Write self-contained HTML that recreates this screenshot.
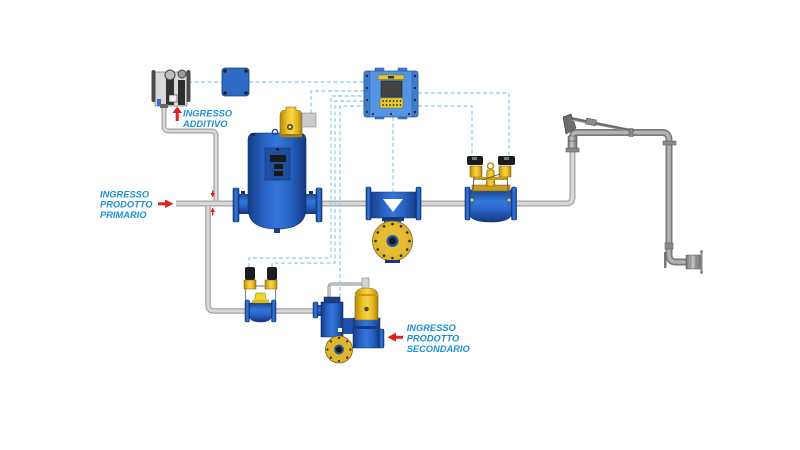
<!DOCTYPE html>
<html><head><meta charset="utf-8">
<style>html,body{margin:0;padding:0;background:#fff}svg{display:block}
text{font-family:"Liberation Sans",sans-serif;font-weight:bold;font-style:italic;font-size:9.3px;fill:#1a8fd6}</style></head>
<body>
<svg width="800" height="450" viewBox="0 0 800 450" xmlns="http://www.w3.org/2000/svg">
<defs>
<linearGradient id="bH" x1="0" x2="1" y1="0" y2="0">
<stop offset="0" stop-color="#163c84"/><stop offset="0.3" stop-color="#2a66c8"/><stop offset="0.5" stop-color="#3476d8"/><stop offset="0.75" stop-color="#2560bf"/><stop offset="1" stop-color="#143780"/></linearGradient>
<linearGradient id="bV" x1="0" x2="0" y1="0" y2="1">
<stop offset="0" stop-color="#1a4490"/><stop offset="0.35" stop-color="#3476d8"/><stop offset="0.6" stop-color="#2a66c8"/><stop offset="1" stop-color="#143780"/></linearGradient>
<linearGradient id="yH" x1="0" x2="1" y1="0" y2="0">
<stop offset="0" stop-color="#b7890f"/><stop offset="0.35" stop-color="#eec52a"/><stop offset="0.55" stop-color="#f6d446"/><stop offset="0.8" stop-color="#e0b21e"/><stop offset="1" stop-color="#a67c0c"/></linearGradient>
<linearGradient id="gH" x1="0" x2="1" y1="0" y2="0">
<stop offset="0" stop-color="#6e6e6e"/><stop offset="0.4" stop-color="#c9c9c9"/><stop offset="1" stop-color="#6a6a6a"/></linearGradient>
</defs>
<rect width="800" height="450" fill="#fff"/>

<!-- pipes -->
<g fill="none" stroke-linecap="butt">
<path d="M176,203.5 H566 Q572.5,203.5 572.5,197 V150" stroke="#a3a3a3" stroke-width="6"/>
<path d="M176,203.5 H566 Q572.5,203.5 572.5,197 V150" stroke="#d8d8d8" stroke-width="3.4"/>
<path d="M208,206 V305 Q208,311 214,311 H318" stroke="#a3a3a3" stroke-width="5.5"/>
<path d="M208,206 V305 Q208,311 214,311 H318" stroke="#d8d8d8" stroke-width="3"/>
<path d="M164,106 V126 Q164,131 169,131 H211 Q216,131 216,136 V200.5" stroke="#a3a3a3" stroke-width="5"/>
<path d="M164,106 V126 Q164,131 169,131 H211 Q216,131 216,136 V200.5" stroke="#dadada" stroke-width="2.6"/>
<path d="M329,302 V288 Q329,284 333,284 H363" stroke="#8a8a8a" stroke-width="3"/>
<path d="M329,302 V288 Q329,284 333,284 H363" stroke="#d0d0d0" stroke-width="1.5"/>
<!-- loading arm -->
<path d="M572.5,140 V137 Q572.5,132.5 577,132.5 H662 Q669,132.5 669,140 V255 Q669,262 676,262 H688" stroke="#7a7a7a" stroke-width="7"/>
<path d="M572.5,140 V137 Q572.5,132.5 577,132.5 H662 Q669,132.5 669,140 V255 Q669,262 676,262 H688" stroke="#b3b3b3" stroke-width="3.5"/>
</g>
<!-- loading arm details -->
<rect x="566" y="148" width="13" height="4" fill="#8a8a8a" stroke="#555" stroke-width="0.5"/>
<rect x="568" y="136" width="9" height="12" fill="url(#gH)" stroke="#555" stroke-width="0.5"/>
<line x1="568" y1="141" x2="577" y2="141" stroke="#555" stroke-width="0.6"/>
<polygon points="563,117 571,114 576,128 566,134" fill="#6d6d6d" stroke="#3a3a3a" stroke-width="0.6"/>
<line x1="570" y1="118" x2="634" y2="131" stroke="#6a6a6a" stroke-width="2.6"/>
<line x1="570" y1="120" x2="634" y2="132" stroke="#a0a0a0" stroke-width="0.8"/>
<rect x="586" y="119" width="10" height="6" fill="#8c8c8c" stroke="#444" stroke-width="0.5" transform="rotate(11.5 591 122)"/>
<rect x="629" y="128.5" width="4" height="8" fill="#8a8a8a" stroke="#555" stroke-width="0.5"/>
<rect x="663" y="141" width="13" height="4" fill="#8a8a8a" stroke="#555" stroke-width="0.5"/>
<rect x="665" y="243" width="8" height="6" fill="#8a8a8a" stroke="#555" stroke-width="0.5"/>
<rect x="664" y="252" width="2.5" height="16" fill="#777"/>
<rect x="686" y="255" width="15" height="14" fill="url(#gH)" stroke="#555" stroke-width="0.5"/>
<line x1="691" y1="255" x2="691" y2="269" stroke="#666" stroke-width="0.6"/>
<line x1="696" y1="255" x2="696" y2="269" stroke="#666" stroke-width="0.6"/>
<rect x="700.5" y="252" width="2" height="20" fill="#888"/>
<circle cx="701.5" cy="251.5" r="1.4" fill="#777"/><circle cx="701.5" cy="272.5" r="1.4" fill="#777"/>

<!-- dashed signal lines -->
<g fill="none" stroke="#8ccbe8" stroke-width="1.2" stroke-dasharray="4,2.5">
<path d="M188,82 H222"/>
<path d="M249,82 H364"/>
<path d="M311,113 V91 H364"/>
<path d="M249,267 V258 H331 V96 H364"/>
<path d="M272,267 V263 H335 V101 H364"/>
<path d="M340,330 V106 H364"/>
<path d="M393,117 V236"/>
<path d="M418,93 H509 V156"/>
<path d="M418,106 H472 V156"/>
</g>

<!-- additive device -->
<rect x="155" y="72" width="32" height="34" fill="#d9d9d9" stroke="#777" stroke-width="0.7"/>
<rect x="151.5" y="70" width="4" height="32" rx="2" fill="#4a4a4a"/>
<rect x="186.5" y="70" width="4" height="32" rx="2" fill="#4a4a4a"/>
<rect x="166" y="78" width="8" height="27" fill="#333"/>
<rect x="178" y="80" width="7" height="25" fill="#2e2e2e"/>
<circle cx="170" cy="75" r="5" fill="#bdbdbd" stroke="#444" stroke-width="1"/>
<circle cx="182" cy="74" r="4" fill="#9a9a9a" stroke="#444" stroke-width="1"/>
<rect x="169" y="95" width="8" height="7" fill="#eee" stroke="#333" stroke-width="0.6"/>
<rect x="157" y="99" width="4" height="7" fill="#3a70c8"/>
<rect x="160" y="104" width="8" height="4" fill="#666"/>

<!-- blue box -->
<rect x="222" y="68" width="27" height="28" rx="3" fill="#2d6bc4" stroke="#1a3f7d" stroke-width="0.8"/>
<circle cx="225" cy="71" r="1.8" fill="#222"/><circle cx="246" cy="71" r="1.8" fill="#222"/>
<circle cx="225" cy="93" r="1.8" fill="#222"/><circle cx="246" cy="93" r="1.8" fill="#222"/>

<!-- controller -->
<rect x="375" y="68" width="9" height="5" fill="#3f7ccc" stroke="#27569a" stroke-width="0.5"/>
<rect x="398" y="68" width="9" height="5" fill="#3f7ccc" stroke="#27569a" stroke-width="0.5"/>
<rect x="375" y="115" width="9" height="4" fill="#3f7ccc" stroke="#27569a" stroke-width="0.5"/>
<rect x="398" y="115" width="9" height="4" fill="#3f7ccc" stroke="#27569a" stroke-width="0.5"/>
<rect x="364" y="71" width="54" height="46" rx="3" fill="#5594e2" stroke="#27569a" stroke-width="0.8"/>
<rect x="364" y="71" width="6" height="46" rx="2" fill="#3f7ccc" stroke="#27569a" stroke-width="0.5"/>
<rect x="412" y="71" width="6" height="46" rx="2" fill="#3f7ccc" stroke="#27569a" stroke-width="0.5"/>
<rect x="378" y="75" width="26" height="4.5" rx="1" fill="#e7c52a" stroke="#6b5a10" stroke-width="0.4"/>
<rect x="388" y="76" width="6" height="2.5" fill="#333"/>
<rect x="381" y="81" width="21" height="16" fill="#434343" stroke="#222" stroke-width="0.6"/>
<rect x="380" y="98" width="23" height="10" rx="2" fill="#e8c92c" stroke="#6b5a10" stroke-width="0.4"/>
<g fill="#222">
<circle cx="383" cy="101" r="0.9"/><circle cx="386.5" cy="101" r="0.9"/><circle cx="390" cy="101" r="0.9"/><circle cx="393.5" cy="101" r="0.9"/><circle cx="397" cy="101" r="0.9"/><circle cx="400.5" cy="101" r="0.9"/>
<circle cx="383" cy="105" r="0.9"/><circle cx="386.5" cy="105" r="0.9"/><circle cx="390" cy="105" r="0.9"/><circle cx="393.5" cy="105" r="0.9"/><circle cx="397" cy="105" r="0.9"/><circle cx="400.5" cy="105" r="0.9"/>
<circle cx="367" cy="76" r="1.1"/><circle cx="367" cy="88" r="1.1"/><circle cx="367" cy="100" r="1.1"/><circle cx="367" cy="112" r="1.1"/>
<circle cx="415" cy="76" r="1.1"/><circle cx="415" cy="88" r="1.1"/><circle cx="415" cy="100" r="1.1"/><circle cx="415" cy="112" r="1.1"/>
<circle cx="373" cy="114" r="1.1"/><circle cx="391" cy="114" r="1.1"/><circle cx="409" cy="114" r="1.1"/>
</g>

<!-- strainer vessel -->
<rect x="238" y="194" width="12" height="20" fill="url(#bV)"/>
<rect x="304" y="194" width="13" height="20" fill="url(#bV)"/>
<rect x="233" y="188" width="6" height="34" rx="1.5" fill="url(#bH)" stroke="#0f2e66" stroke-width="0.6"/>
<rect x="316" y="188" width="6" height="34" rx="1.5" fill="url(#bH)" stroke="#0f2e66" stroke-width="0.6"/>
<rect x="241" y="191" width="4" height="3" fill="#1a2f5c"/><rect x="309" y="191" width="4" height="3" fill="#1a2f5c"/>
<path d="M248,140 Q248,133 255,133 H299 Q306,133 306,140 V208 Q306,229 277,229 Q248,229 248,208 Z" fill="url(#bH)" stroke="#10306a" stroke-width="0.6"/>
<rect x="274" y="228" width="6" height="5" fill="#1b3f85"/>
<circle cx="275" cy="132" r="2.6" fill="none" stroke="#1d4a9a" stroke-width="1.4"/>
<rect x="251" y="133" width="4" height="3" fill="#1a2f5c"/>
<rect x="265" y="148" width="25" height="32" fill="#1f4f9f" stroke="#153a7a" stroke-width="0.7"/>
<rect x="276" y="148.5" width="3" height="2" fill="#111"/>
<rect x="270" y="155" width="16" height="7" fill="#1a1a1a"/>
<rect x="274" y="164" width="9" height="5" fill="#1a1a1a"/>
<rect x="274" y="171" width="9" height="5" fill="#1a1a1a"/>
<!-- actuator -->
<path d="M280,137 V116 Q280,110 286,110 V107 H296 V110 Q302,110 302,116 V137 Z" fill="url(#yH)" stroke="#8a6a0c" stroke-width="0.6"/>
<rect x="302" y="113" width="14" height="14" fill="#cbcbcb" stroke="#888" stroke-width="0.6"/>
<circle cx="290" cy="127" r="3" fill="#5a4a10"/><circle cx="290" cy="127" r="1.4" fill="#ddd"/>
<rect x="280" y="134" width="22" height="2.5" fill="#a07a10"/>

<!-- bidirectional meter -->
<path d="M370,192 H417 V218 L403,218 L399,225 H386 L382,218 H370 Z" fill="url(#bH)" stroke="#10306a" stroke-width="0.6"/>
<polygon points="383,199 403,199 393,212" fill="#fff"/>
<rect x="366" y="187" width="5" height="33" rx="1.5" fill="url(#bH)" stroke="#0f2e66" stroke-width="0.6"/>
<rect x="416" y="187" width="5" height="33" rx="1.5" fill="url(#bH)" stroke="#0f2e66" stroke-width="0.6"/>
<rect x="382" y="217" width="22" height="4" fill="#17397c"/>
<circle cx="392.5" cy="241" r="20" fill="#e0b52a" stroke="#7f6410" stroke-width="0.8"/>
<circle cx="392.5" cy="241" r="15" fill="#e6bd32"/>
<g fill="#2a2a2a">
<circle cx="409.5" cy="241" r="1.3"/><circle cx="407.2" cy="249.5" r="1.3"/><circle cx="401" cy="255.7" r="1.3"/><circle cx="392.5" cy="258" r="1.3"/><circle cx="384" cy="255.7" r="1.3"/><circle cx="377.8" cy="249.5" r="1.3"/><circle cx="375.5" cy="241" r="1.3"/><circle cx="377.8" cy="232.5" r="1.3"/><circle cx="384" cy="226.3" r="1.3"/><circle cx="392.5" cy="224" r="1.3"/><circle cx="401" cy="226.3" r="1.3"/><circle cx="407.2" cy="232.5" r="1.3"/>
</g>
<circle cx="392.5" cy="241" r="6" fill="#2456a6"/><circle cx="392.5" cy="241" r="3.6" fill="#151515"/>
<rect x="385" y="260" width="15" height="3" fill="#17397c"/>

<!-- control valve right -->
<path d="M469,190 H512 V212 Q512,222 490.5,222 Q469,222 469,212 Z" fill="url(#bV)" stroke="#10306a" stroke-width="0.6"/>
<rect x="465" y="187" width="5" height="33" rx="1.5" fill="url(#bH)" stroke="#0f2e66" stroke-width="0.6"/>
<rect x="511.5" y="187" width="5" height="33" rx="1.5" fill="url(#bH)" stroke="#0f2e66" stroke-width="0.6"/>
<rect x="472" y="185" width="38" height="6" fill="#c99b1c" stroke="#7a5d0c" stroke-width="0.5"/>
<path d="M486,186 L487,170 H494 L495,186 Z" fill="url(#yH)" stroke="#7a5d0c" stroke-width="0.5"/>
<circle cx="490.5" cy="166" r="3" fill="none" stroke="#b8901a" stroke-width="1.6"/>
<rect x="470" y="166" width="12" height="11" fill="url(#yH)" stroke="#7a5d0c" stroke-width="0.5"/>
<rect x="499" y="166" width="12" height="11" fill="url(#yH)" stroke="#7a5d0c" stroke-width="0.5"/>
<rect x="473" y="177" width="35" height="3" fill="#c99b1c"/>
<g stroke="#555" stroke-width="0.9" fill="none">
<line x1="474" y1="177" x2="472" y2="205"/><line x1="507" y1="177" x2="509" y2="205"/>
<line x1="482" y1="180" x2="500" y2="174"/>
</g>
<circle cx="472" cy="200" r="1.8" fill="#ccc" stroke="#444" stroke-width="0.5"/>
<circle cx="509" cy="200" r="1.8" fill="#ccc" stroke="#444" stroke-width="0.5"/>
<rect x="467" y="156" width="16" height="9" rx="2" fill="#1c1c1c"/>
<rect x="498" y="156" width="17" height="9" rx="2" fill="#1c1c1c"/>
<rect x="472" y="157" width="5" height="3" fill="#777"/><rect x="504" y="157" width="5" height="3" fill="#777"/>

<!-- small pilot valve -->
<path d="M249,303 H272 V314 Q272,322 260.5,322 Q249,322 249,314 Z" fill="url(#bV)" stroke="#10306a" stroke-width="0.6"/>
<rect x="245" y="300" width="4.5" height="22" rx="1.2" fill="url(#bH)" stroke="#0f2e66" stroke-width="0.5"/>
<rect x="271.5" y="300" width="4.5" height="22" rx="1.2" fill="url(#bH)" stroke="#0f2e66" stroke-width="0.5"/>
<path d="M254,303 L256,293 H265 L267,303 Z" fill="#f0d52a" stroke="#8a7010" stroke-width="0.5"/>
<rect x="252" y="300" width="17" height="3" fill="#d9b820"/>
<rect x="244" y="280" width="12" height="9" fill="url(#yH)" stroke="#7a5d0c" stroke-width="0.5"/>
<rect x="265" y="280" width="12" height="9" fill="url(#yH)" stroke="#7a5d0c" stroke-width="0.5"/>
<g stroke="#888" stroke-width="1.2" fill="none">
<path d="M245.5,289 V300"/><path d="M275.5,289 V300"/><path d="M256,286 H265"/>
</g>
<rect x="245" y="267" width="10" height="13" rx="2" fill="#1c1c1c"/>
<rect x="267" y="267" width="10" height="13" rx="2" fill="#1c1c1c"/>

<!-- secondary meter assembly -->
<rect x="318" y="305" width="8" height="11" fill="url(#bV)"/>
<rect x="313" y="302" width="5" height="16" rx="1.2" fill="url(#bH)" stroke="#0f2e66" stroke-width="0.5"/>
<path d="M340,318 L355,318 V334 L342,334 Z" fill="#1f55b0"/>
<rect x="353" y="318" width="27" height="30" fill="url(#bH)" stroke="#10306a" stroke-width="0.5"/>
<rect x="379" y="329" width="5" height="19" rx="1.2" fill="url(#bH)" stroke="#0f2e66" stroke-width="0.5"/>
<rect x="353" y="326" width="27" height="3" fill="#173a80"/>
<path d="M321,302 H343 V337 H321 Z" fill="url(#bH)" stroke="#10306a" stroke-width="0.6"/>
<rect x="324" y="297" width="16" height="6" fill="#1a3f85" stroke="#10306a" stroke-width="0.5"/>
<rect x="338" y="328" width="4" height="4" fill="#fff"/>
<path d="M355,320 V296 Q355,288 366.5,288 Q378,288 378,296 V320 Z" fill="url(#yH)" stroke="#8a6a0c" stroke-width="0.6"/>
<rect x="355" y="294" width="23" height="2" fill="#c79c18"/>
<circle cx="366.5" cy="309" r="2.3" fill="#5a4a10"/>
<rect x="362" y="278" width="7" height="10" fill="#d4d4d4" stroke="#777" stroke-width="0.5"/>
<circle cx="339" cy="349.5" r="13.5" fill="#e0b52a" stroke="#7f6410" stroke-width="0.8"/>
<g fill="#2a2a2a">
<circle cx="350.5" cy="349.5" r="1.1"/><circle cx="347.1" cy="357.6" r="1.1"/><circle cx="339" cy="361" r="1.1"/><circle cx="330.9" cy="357.6" r="1.1"/><circle cx="327.5" cy="349.5" r="1.1"/><circle cx="330.9" cy="341.4" r="1.1"/><circle cx="339" cy="338" r="1.1"/><circle cx="347.1" cy="341.4" r="1.1"/>
</g>
<circle cx="339" cy="349.5" r="5" fill="#2456a6"/><circle cx="339" cy="349.5" r="3" fill="#151515"/>

<!-- red arrows -->
<g fill="#e02020">
<rect x="158" y="202.3" width="8" height="3" /><polygon points="165,199.5 173.5,203.8 165,208"/>
<rect x="175.7" y="112" width="3" height="9"/><polygon points="172.5,113 177.2,106.5 182,113"/>
<rect x="395" y="335.8" width="8" height="3"/><polygon points="396,332.8 387.5,337.3 396,341.8"/>
<rect x="212" y="190.5" width="1.4" height="3"/><polygon points="210.4,193 214.9,193 212.7,197.5"/>
<rect x="212" y="211.5" width="1.4" height="4"/><polygon points="210.4,212 214.9,212 212.7,207.5"/>
</g>

<!-- labels -->
<text x="100" y="197.5">INGRESSO</text>
<text x="100" y="207.7">PRODOTTO</text>
<text x="100" y="217.8">PRIMARIO</text>
<text x="183" y="116.7">INGRESSO</text>
<text x="183" y="126.8">ADDITIVO</text>
<text x="406.7" y="331">INGRESSO</text>
<text x="406.7" y="341.6">PRODOTTO</text>
<text x="406.7" y="352.2">SECONDARIO</text>
</svg>
</body></html>
